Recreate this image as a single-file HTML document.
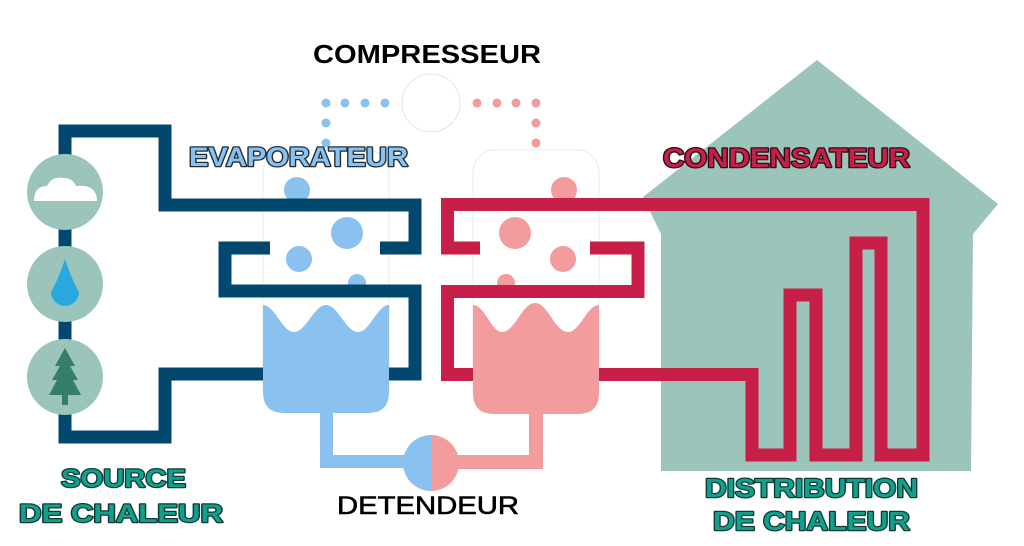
<!DOCTYPE html>
<html><head><meta charset="utf-8"><style>
html,body{margin:0;padding:0;background:#fff;}
svg{display:block;}
text{font-family:"Liberation Sans",Arial,sans-serif;font-weight:bold;}
.o{paint-order:stroke;stroke-linejoin:round;}
</style></head><body>
<svg width="1024" height="546" viewBox="0 0 1024 546" xmlns="http://www.w3.org/2000/svg">
<rect width="1024" height="546" fill="#fff"/>
<!-- house -->
<polygon points="817,60 998,204 973,234 971,471 661,471 661,234 643,197" fill="#9bc5ba"/>
<!-- compressor outline & faint tanks -->
<circle cx="431" cy="103" r="29" fill="none" stroke="#d8ebe6" stroke-width="1"/>
<rect x="263" y="150" width="126" height="260" rx="22" fill="none" stroke="#e3efec" stroke-width="1"/>
<rect x="473" y="150" width="126" height="260" rx="22" fill="none" stroke="#e3efec" stroke-width="1"/>
<!-- dots -->
<g fill="#8ac1ee">
<circle cx="326" cy="103" r="4.5"/><circle cx="345" cy="103" r="4.5"/><circle cx="365" cy="103" r="4.5"/><circle cx="385" cy="103" r="4.5"/>
<circle cx="326" cy="123" r="4.5"/><circle cx="326" cy="143" r="4.5"/>
<circle cx="297" cy="190" r="13"/><circle cx="347" cy="233" r="16"/><circle cx="299" cy="259" r="13"/><circle cx="357" cy="283" r="9"/>
</g>
<g fill="#f29c9e">
<circle cx="477" cy="103" r="4.5"/><circle cx="497" cy="103" r="4.5"/><circle cx="516" cy="103" r="4.5"/><circle cx="536" cy="103" r="4.5"/>
<circle cx="536" cy="123" r="4.5"/><circle cx="536" cy="143" r="4.5"/>
<circle cx="564" cy="190" r="13"/><circle cx="515" cy="233" r="16"/><circle cx="563" cy="259" r="13"/><circle cx="506" cy="283" r="9"/>
</g>
<!-- blue pipes -->
<g fill="none" stroke="#02476d" stroke-width="13" stroke-linejoin="miter">
<polyline points="65,160 65,131 165,131 165,205 415,205 415,248 380,248"/>
<polyline points="270,248 225,248 225,291 415,291 415,374 380,374"/>
<polyline points="270,374 165,374 165,437 65,437 65,400"/>
<line x1="65" y1="225" x2="65" y2="255"/>
<line x1="65" y1="318" x2="65" y2="345"/>
</g>
<!-- red pipes -->
<g fill="none" stroke="#c81f48" stroke-width="13" stroke-linejoin="miter">
<polyline points="480,248 447.5,248 447.5,204.5 923,204.5 923,455 881,455 881,243 856,243 856,455 816,455 816,295 790,295 790,455 752,455 752,374.5 590,374.5"/>
<polyline points="590,248 638,248 638,291.5 447.5,291.5 447.5,374.5 480,374.5"/>
</g>
<!-- source circles -->
<g fill="#9bc5ba">
<circle cx="65" cy="192" r="38"/><circle cx="65" cy="284" r="38"/><circle cx="65" cy="377" r="38"/>
</g>
<path d="M34,201 Q34,186 47,186 Q52,176 63,178 Q73,178 76,186 Q97,184 97,201 Z" fill="#fff"/>
<path d="M65,259 Q72,280 79,292 A14,14 0 1 1 51,292 Q58,280 65,259 Z" fill="#2aa8e0"/>
<path d="M65,348 L75,366 L70,366 L78,380 L73,380 L81,395 L68,395 L68,405 L62,405 L62,395 L49,395 L57,380 L52,380 L60,366 L55,366 Z" fill="#347e6b"/>
<!-- tanks -->
<path d="M263,305 C275,305 282,332 294,332 C306,332 314,305 326,305 C338,305 346,332 358,332 C370,332 377,305 389,305 L389,392 Q389,413 368,413 L284,413 Q263,413 263,392 Z" fill="#8ac1ee"/>
<rect x="320" y="410" width="13" height="58" fill="#8ac1ee"/>
<rect x="320" y="455" width="111" height="13" fill="#8ac1ee"/>
<path d="M473,305 C485,305 491,332 502,332 C515,332 522,303 535,303 C548,303 555,332 568,332 C580,332 587,305 599,305 L599,393 Q599,414 578,414 L494,414 Q473,414 473,393 Z" fill="#f29c9e"/>
<rect x="529" y="410" width="14" height="59" fill="#f29c9e"/>
<rect x="431" y="455" width="112" height="14" fill="#f29c9e"/>
<!-- valve -->
<path d="M431,435 A28,28 0 0 0 431,491 Z" fill="#8ac1ee"/>
<path d="M431,435 A28,28 0 0 1 431,491 Z" fill="#f29c9e"/>
<!-- labels -->
<text x="313" y="63" font-size="26" fill="#000" textLength="228" lengthAdjust="spacingAndGlyphs">COMPRESSEUR</text>
<text class="o" x="189" y="166" font-size="27" fill="#8ac1ee" stroke="#1d2d3a" stroke-width="2.6" textLength="219" lengthAdjust="spacingAndGlyphs">EVAPORATEUR</text>
<text class="o" x="663" y="167" font-size="27" fill="#c81f48" stroke="#2a0d15" stroke-width="2.6" textLength="247" lengthAdjust="spacingAndGlyphs">CONDENSATEUR</text>
<text class="o" x="61" y="487" font-size="25" fill="#12a08e" stroke="#0e3a33" stroke-width="2.4" textLength="125" lengthAdjust="spacingAndGlyphs">SOURCE</text>
<text class="o" x="19" y="522" font-size="25" fill="#12a08e" stroke="#0e3a33" stroke-width="2.4" textLength="204" lengthAdjust="spacingAndGlyphs">DE  CHALEUR</text>
<text x="337" y="514" font-size="25" fill="#000" style="font-weight:normal" stroke="#000" stroke-width="0.6" textLength="182" lengthAdjust="spacingAndGlyphs">DETENDEUR</text>
<text class="o" x="705" y="497" font-size="26" fill="#12a08e" stroke="#0e3a33" stroke-width="2.4" textLength="213" lengthAdjust="spacingAndGlyphs">DISTRIBUTION</text>
<text class="o" x="713" y="530" font-size="26" fill="#12a08e" stroke="#0e3a33" stroke-width="2.4" textLength="197" lengthAdjust="spacingAndGlyphs">DE CHALEUR</text>
</svg>
</body></html>
